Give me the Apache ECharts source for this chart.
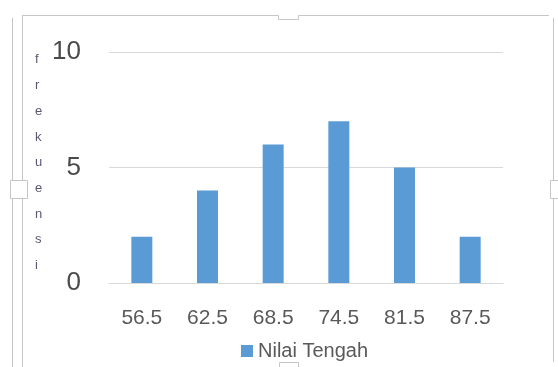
<!DOCTYPE html>
<html>
<head>
<meta charset="utf-8">
<script src="https://cdn.jsdelivr.net/npm/echarts@6/dist/echarts.min.js"></script>
<style>
  html, body { margin: 0; padding: 0; background: #ffffff; }
  #chart { width: 558px; height: 367px; }
</style>
</head>
<body>
<div id="chart"></div>
<script>
// Midpoints of each class interval and their frequencies
const categories = ['56.5', '62.5', '68.5', '74.5', '81.5', '87.5'];
const frekuensi = [2, 4, 6, 7, 5, 2];
const seriesName = 'Nilai Tengah';
const axisTitle = 'frekuensi';

const textColor = '#595959';
const frameColor = '#c6c6c6';

const chart = echarts.init(document.getElementById('chart'), null, { renderer: 'canvas' });

// Outline of the chart area with its resize handles
const frame = [
  { type: 'polyline', shape: { points: [[22, 15.5], [278.5, 15.5], [278.5, 19.5], [298.5, 19.5], [298.5, 15.5], [549, 15.5]] } },
  { type: 'line', shape: { x1: 12.5, y1: 18, x2: 12.5, y2: 367 } },
  { type: 'line', shape: { x1: 22.5, y1: 15, x2: 22.5, y2: 367 } },
  { type: 'line', shape: { x1: 553.5, y1: 18, x2: 553.5, y2: 362 } },
  { type: 'rect', shape: { x: 10.5, y: 180.5, width: 17, height: 18 }, style: { fill: '#fff' } },
  { type: 'rect', shape: { x: 550.5, y: 180.5, width: 12, height: 18 }, style: { fill: '#fff' } },
  { type: 'rect', shape: { x: 279.5, y: 362.5, width: 19, height: 12 }, style: { fill: '#fff' } }
].map(function (el) {
  el.silent = true;
  el.style = Object.assign({ stroke: frameColor, lineWidth: 1, fill: null }, el.style || {});
  return el;
});

// Vertical axis title, one letter per line
frame.push({
  type: 'text',
  silent: true,
  left: 35,
  top: 47,
  style: {
    text: axisTitle.split('').join('\n'),
    fontSize: 13,
    lineHeight: 25.7,
    fill: '#5e5670',
    fontFamily: 'Liberation Sans, Arial, sans-serif',
    align: 'center'
  }
});

chart.setOption({
  animation: false,
  textStyle: { fontFamily: 'Liberation Sans, Arial, sans-serif', color: textColor },
  grid: { left: 109, right: 55, top: 52, bottom: 84, containLabel: false },
  legend: {
    data: [seriesName],
    left: 236,
    top: 336,
    icon: 'rect',
    itemWidth: 12,
    itemHeight: 12,
    itemGap: 10,
    textStyle: { fontSize: 20, color: textColor, padding: [3, 0, 0, 0] }
  },
  xAxis: {
    type: 'category',
    data: categories,
    axisLine: { show: true, lineStyle: { color: '#d9d9d9', width: 1 } },
    axisTick: { show: false },
    axisLabel: { fontSize: 21, color: textColor, margin: 25 }
  },
  yAxis: {
    type: 'value',
    min: 0,
    max: 10,
    interval: 5,
    axisLine: { show: false },
    axisTick: { show: false },
    splitLine: { lineStyle: { color: '#d9d9d9', width: 1 } },
    axisLabel: { fontSize: 26, color: '#4a4a4a', margin: 28 }
  },
  series: [{
    name: seriesName,
    type: 'bar',
    data: frekuensi,
    barWidth: 21,
    itemStyle: { color: '#5b9bd5' }
  }],
  graphic: frame
});
</script>
</body>
</html>
